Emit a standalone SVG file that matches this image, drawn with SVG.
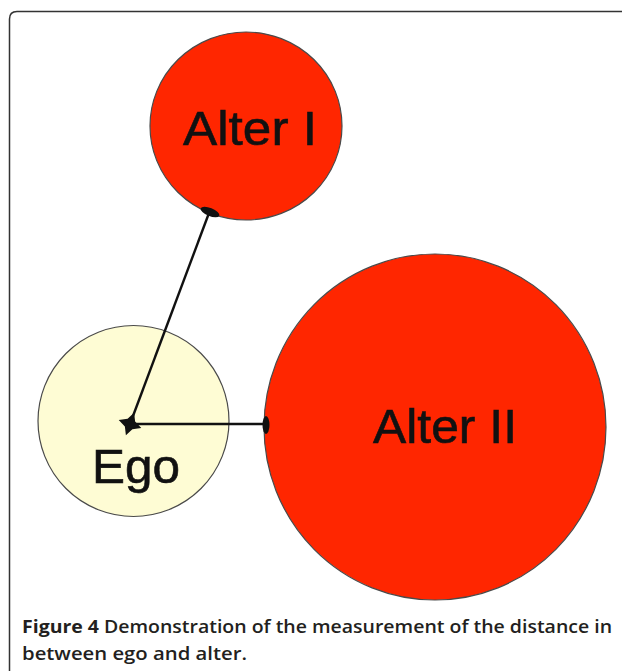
<svg xmlns="http://www.w3.org/2000/svg" width="622" height="671" viewBox="0 0 622 671">
<style>
.node{stroke:#4a4a4a;stroke-width:1.2}
.red{fill:#ff2600}
.lbl{font-family:"Liberation Sans",Arial,sans-serif;font-size:49px;fill:#111;stroke:#111;stroke-width:0.6}
.edge{stroke:#111;stroke-width:2.4;fill:none}
.cap{font-family:"Open Sans","Noto Sans",sans-serif;font-size:18.5px;fill:#231f20;font-weight:600}
</style>
<rect width="622" height="671" fill="#fff"/>
<path d="M9.5,671 V19 Q9.5,11.5 17,11.5 H622" fill="none" stroke="#333" stroke-width="1.5"/>
<g id="alter1">
<ellipse class="node red" cx="246" cy="126" rx="96" ry="94"/>
<text class="lbl" x="183" y="145" textLength="134" lengthAdjust="spacingAndGlyphs">Alter I</text>
</g>
<g id="ego">
<circle class="node" cx="133.5" cy="421" r="95.5" fill="#fefcd4"/>
<text class="lbl" x="92" y="483" textLength="88" lengthAdjust="spacingAndGlyphs">Ego</text>
</g>
<g id="alter2">
<ellipse class="node red" cx="435" cy="427" rx="171" ry="173"/>
<text class="lbl" x="373" y="443" textLength="144" lengthAdjust="spacingAndGlyphs">Alter II</text>
</g>
<g id="connectors">
<line class="edge" x1="130" y1="424" x2="209" y2="213"/>
<line class="edge" x1="130" y1="424" x2="266" y2="424"/>
<ellipse cx="210" cy="212" rx="10" ry="4" transform="rotate(22 210 212)" fill="#111"/>
<ellipse cx="266" cy="425" rx="3.5" ry="9" fill="#111"/>
<path d="M130,412 L134,420 L142,424 L134,428 L130,436 L126,428 L118,424 L126,420 Z" fill="#111" transform="rotate(20 130 424)"/>
</g>
<g id="caption">
<text class="cap" x="22" y="633" textLength="590" lengthAdjust="spacingAndGlyphs"><tspan font-weight="bold">Figure 4</tspan> Demonstration of the measurement of the distance in</text>
<text class="cap" x="22" y="660" textLength="225" lengthAdjust="spacingAndGlyphs">between ego and alter.</text>
</g>
</svg>
